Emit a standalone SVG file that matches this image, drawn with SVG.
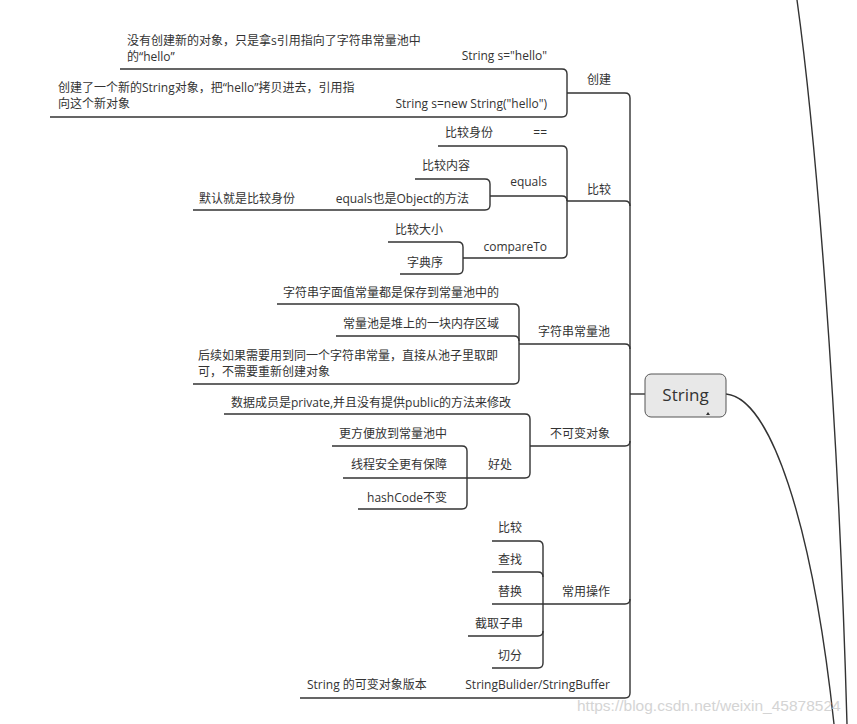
<svg xmlns="http://www.w3.org/2000/svg" width="857" height="724" viewBox="0 0 857 724">
<style>
text{font-family:"Open Sans","Noto Sans CJK SC",sans-serif;font-size:12px;fill:#333}
.e{text-anchor:end}
.ln{fill:none;stroke:#333;stroke-width:1.4}
.wm{font-family:"Liberation Sans",Arial,sans-serif;font-size:15.5px;fill:#d4d4d4}
</style>
<rect width="857" height="724" fill="#fff"/>
<g id="connectors">
<path class="ln" d="M567,93 H625 Q630,93 630,98 V693 Q630,698 625,698 H300"/>
<path class="ln" d="M630,394 H645"/>
<path class="ln" d="M567,201 H625 Q630,201 630,206"/>
<path class="ln" d="M519,344 H625 Q630,344 630,349"/>
<path class="ln" d="M530,446 H625 Q630,446 630,441"/>
<path class="ln" d="M543,604 H625 Q630,604 630,599"/>
<path class="ln" d="M120,69 H562 Q567,69 567,74 V112 Q567,117 562,117 H50"/>
<path class="ln" d="M438,146 H562 Q567,146 567,151 V253 Q567,258 562,258 H463"/>
<path class="ln" d="M490,196 H562 Q567,196 567,201"/>
<path class="ln" d="M415,179 H485 Q490,179 490,184 V205 Q490,210 485,210 H193"/>
<path class="ln" d="M388,242 H458 Q463,242 463,247 V269 Q463,274 458,274 H400"/>
<path class="ln" d="M277,304 H514 Q519,304 519,309 V379 Q519,384 514,384 H193"/>
<path class="ln" d="M336,336 H514 Q519,336 519,341"/>
<path class="ln" d="M224,414 H525 Q530,414 530,419 V473 Q530,478 525,478 H343"/>
<path class="ln" d="M332,446 H462 Q467,446 467,451 V504 Q467,509 462,509 H358"/>
<path class="ln" d="M492,541 H538 Q543,541 543,546 V663 Q543,668 538,668 H492"/>
<path class="ln" d="M492,572 H538 Q543,572 543,577"/>
<path class="ln" d="M492,604 H543"/>
<path class="ln" d="M468,636 H538 Q543,636 543,631"/>
<path class="ln" d="M726,394 C770,398 812,520 834,724"/>
<path class="ln" d="M797,0 C815,130 838,400 847,724"/>
</g>
<g id="root">
<rect x="645" y="374" width="81" height="43" rx="6" fill="#e8e8e8" stroke="#555" stroke-width="1"/>
<text x="685.5" y="401" style="font-size:17px;text-anchor:middle">String</text>
<path d="M706,415 L708,412 L710,415 Z" fill="#333"/>
</g>
<g id="create"><text class="e" x="611" y="84">创建</text></g>
<g id="create-literal"><text class="e" x="547" y="60">String s="hello"</text></g>
<g id="create-literal-note"><text x="127" y="45">没有创建新的对象，只是拿s引用指向了字符串常量池中</text><text x="127" y="61">的“hello”</text></g>
<g id="create-new"><text class="e" x="547" y="108">String s=new String("hello")</text></g>
<g id="create-new-note"><text x="58" y="92">创建了一个新的String对象，把“hello”拷贝进去，引用指</text><text x="58" y="108">向这个新对象</text></g>
<g id="compare"><text class="e" x="611" y="194">比较</text></g>
<g id="eq"><text class="e" x="547" y="137">==</text></g>
<g id="eq-note"><text x="445" y="137">比较身份</text></g>
<g id="equals"><text class="e" x="547" y="186">equals</text></g>
<g id="equals-content"><text x="422" y="170">比较内容</text></g>
<g id="equals-object"><text class="e" x="469" y="203">equals也是Object的方法</text></g>
<g id="equals-default"><text x="199" y="203">默认就是比较身份</text></g>
<g id="compareTo"><text class="e" x="547" y="251">compareTo</text></g>
<g id="compare-size"><text x="395" y="234">比较大小</text></g>
<g id="dict"><text x="407" y="267">字典序</text></g>
<g id="pool"><text class="e" x="610" y="336">字符串常量池</text></g>
<g id="pool-1"><text x="283" y="297">字符串字面值常量都是保存到常量池中的</text></g>
<g id="pool-2"><text x="343" y="328">常量池是堆上的一块内存区域</text></g>
<g id="pool-3"><text x="198" y="360">后续如果需要用到同一个字符串常量，直接从池子里取即</text><text x="198" y="376">可，不需要重新创建对象</text></g>
<g id="immutable"><text class="e" x="610" y="438">不可变对象</text></g>
<g id="immutable-1"><text x="231" y="407">数据成员是private,并且没有提供public的方法来修改</text></g>
<g id="benefit"><text class="e" x="512" y="469">好处</text></g>
<g id="benefit-1"><text class="e" x="447" y="438">更方便放到常量池中</text></g>
<g id="benefit-2"><text class="e" x="447" y="469">线程安全更有保障</text></g>
<g id="benefit-3"><text class="e" x="447" y="502">hashCode不变</text></g>
<g id="ops"><text class="e" x="610" y="596">常用操作</text></g>
<g id="op-1"><text x="498" y="532">比较</text></g>
<g id="op-2"><text x="498" y="564">查找</text></g>
<g id="op-3"><text x="498" y="596">替换</text></g>
<g id="op-4"><text x="475" y="628">截取子串</text></g>
<g id="op-5"><text x="498" y="660">切分</text></g>
<g id="builder"><text class="e" x="610" y="689">StringBulider/StringBuffer</text></g>
<g id="builder-note"><text x="307" y="689">String 的可变对象版本</text></g>
<text class="wm" x="577" y="711">https://blog.csdn.net/weixin_45878524</text>
</svg>
